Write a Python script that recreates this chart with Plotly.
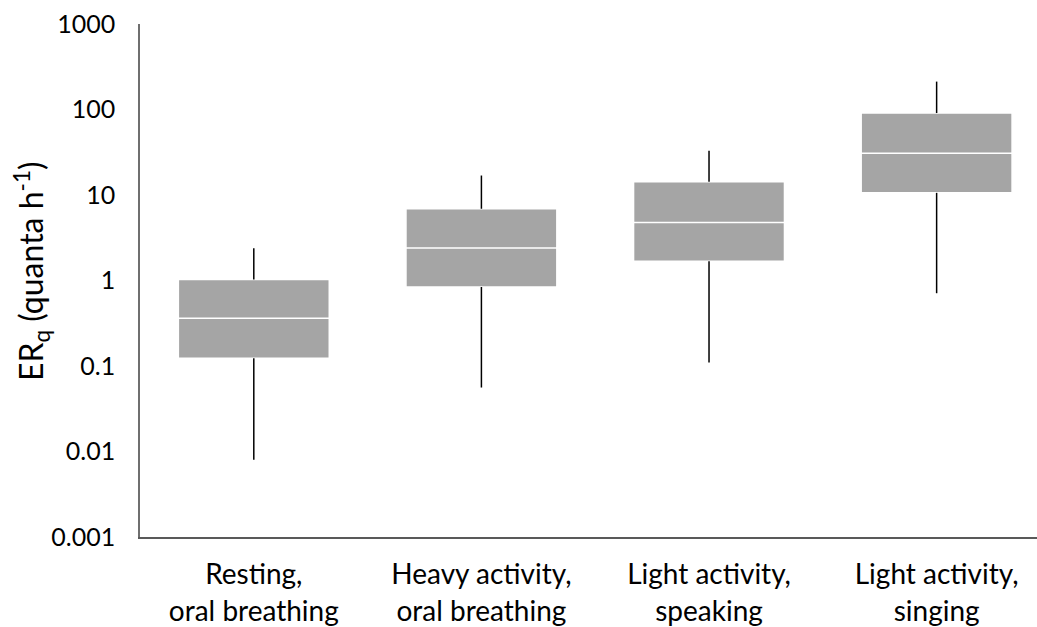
import plotly.graph_objects as go

# Emission rate summaries per activity (quanta per hour)
categories = [
    "Resting,<br>oral breathing",
    "Heavy activity,<br>oral breathing",
    "Light activity,<br>speaking",
    "Light activity,<br>singing",
]
upper = [2.38, 16.9, 33.0, 212.0]
q3 = [1.03, 6.9, 14.3, 90.9]
median = [0.363, 2.4, 4.78, 30.7]
q1 = [0.123, 0.84, 1.68, 10.6]
lower = [0.0080, 0.056, 0.110, 0.71]

tick_vals = [0.001, 0.01, 0.1, 1, 10, 100, 1000]
tick_text = ["0.001", "0.01", "0.1", "1", "10", "100", "1000"]

FONT = "Lato"

fig = go.Figure()

# Boxes: grey fill with a white median line
fig.add_trace(go.Box(
    x=categories,
    q1=q1,
    median=median,
    q3=q3,
    lowerfence=q1,
    upperfence=q3,
    fillcolor="#a5a5a5",
    line=dict(color="white", width=1.5),
    whiskerwidth=0,
    width=0.663,
    boxpoints=False,
    hoverinfo="skip",
    showlegend=False,
))

# Whiskers drawn as plain black lines outside the boxes
wx, wy = [], []
for c, lo, a, b, hi in zip(categories, lower, q1, q3, upper):
    wx += [c, c, None, c, c, None]
    wy += [lo, a, None, b, hi, None]
fig.add_trace(go.Scatter(
    x=wx, y=wy, mode="lines",
    line=dict(color="black", width=1.5),
    hoverinfo="skip", showlegend=False,
))

# Vertical axis title placed as a rotated annotation
fig.add_annotation(
    text="ER<sub>q</sub> (quanta h<sup>-1</sup>)",
    xref="paper", yref="paper",
    x=-0.1215, y=0.5165,
    xanchor="center", yanchor="middle",
    textangle=-90,
    showarrow=False,
    font=dict(size=32, family=FONT, color="black"),
)

fig.update_layout(
    width=1037,
    height=627,
    margin=dict(l=140, r=0, t=24, b=88),
    paper_bgcolor="white",
    plot_bgcolor="white",
    font=dict(family=FONT, color="black"),
    xaxis=dict(
        type="category",
        range=[-0.5, 3.441],
        showline=True,
        linecolor="#595959",
        linewidth=1.5,
        showgrid=False,
        ticks="",
        tickfont=dict(size=28, family=FONT, color="black"),
        ticklabelstandoff=12,
    ),
    yaxis=dict(
        type="log",
        range=[-3, 3],
        tickvals=tick_vals,
        ticktext=tick_text,
        showline=True,
        linecolor="#6f6f6f",
        linewidth=1.5,
        showgrid=False,
        zeroline=False,
        ticks="",
        tickfont=dict(size=25, family=FONT, color="black"),
        ticklabelstandoff=18,
    ),
)

fig.write_html("out.html")
